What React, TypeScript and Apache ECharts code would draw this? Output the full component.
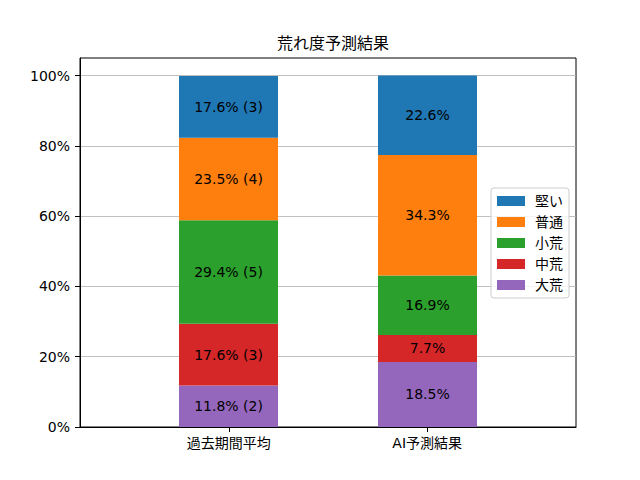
import React, { useEffect, useRef } from "react";
import * as echarts from "echarts";

const categories = ["過去期間平均", "AI予測結果"];
const seriesNames = ["大荒", "中荒", "小荒", "普通", "堅い"]; // bottom to top
const legendOrder = ["堅い", "普通", "小荒", "中荒", "大荒"];
const colors = ["#9467bd", "#d62728", "#2ca02c", "#ff7f0e", "#1f77b4"];
const pastPct = [11.8, 17.6, 29.4, 23.5, 17.6];
const pastCount = [2, 3, 5, 4, 3];
const aiPct = [18.5, 7.7, 16.9, 34.3, 22.6];
const yTicks = [0, 20, 40, 60, 80, 100];

const FONT = "'DejaVu Sans', 'Noto Sans CJK JP', sans-serif";

export default function App() {
  const ref = useRef<HTMLDivElement>(null);
  useEffect(() => {
    document.body.style.margin = "0";
    const chart = echarts.init(ref.current!, null, { renderer: "svg" });
    const series = seriesNames.map((name, i) => ({
      name,
      type: "bar",
      stack: "total",
      xAxisIndex: 1,
      yAxisIndex: 1,
      barWidth: 99,
      itemStyle: { color: colors[i] },
      label: {
        show: true,
        position: "inside",
        color: "#000",
        fontSize: 14,
        fontFamily: FONT,
        textBorderWidth: 0,
        formatter: (p: any) =>
          p.dataIndex === 0
            ? `${pastPct[i].toFixed(1)}% (${pastCount[i]})`
            : `${aiPct[i].toFixed(1)}%`,
      },
      emphasis: { disabled: true },
      data: [pastPct[i], aiPct[i]],
    }));
    chart.setOption({
      animation: false,
      textStyle: { fontFamily: FONT },
      title: {
        text: "荒れ度予測結果",
        left: 328,
        top: 30,
        textAlign: "center",
        textStyle: { fontSize: 16, fontWeight: "normal", color: "#000", fontFamily: FONT },
      },
      grid: [
        {
          left: 80,
          right: 64,
          top: 58,
          bottom: 53,
          show: true,
          borderColor: "#000",
          borderWidth: 1,
          backgroundColor: "transparent",
        },
        { left: 129, right: 113, top: 58, bottom: 53 },
      ],
      legend: {
        data: legendOrder,
        orient: "vertical",
        left: 491,
        top: 188,
        icon: "rect",
        itemWidth: 28,
        itemHeight: 10,
        itemGap: 7,
        padding: [6, 6, 6, 6],
        borderColor: "#cccccc",
        borderWidth: 1,
        borderRadius: 3,
        backgroundColor: "rgba(255,255,255,0.8)",
        textStyle: { fontSize: 14, color: "#000", fontFamily: FONT, padding: [0, 0, 0, 5] },
        selectedMode: false,
        z: 10,
      },
      xAxis: [
        {
          type: "value",
          gridIndex: 0,
          min: -0.75,
          max: 1.75,
          splitLine: { show: false },
          axisLine: { show: true, onZero: false, lineStyle: { color: "#000", width: 1 } },
          axisTick: { show: true, length: 5, customValues: [0, 1], lineStyle: { color: "#000" } },
          axisLabel: {
            customValues: [0, 1],
            margin: 9,
            fontSize: 14,
            color: "#000",
            fontFamily: FONT,
            formatter: (v: number) => categories[Math.round(v)] ?? "",
          },
        },
        {
          type: "category",
          gridIndex: 1,
          data: categories,
          show: false,
        },
      ],
      yAxis: [
        {
          type: "value",
          gridIndex: 0,
          min: 0,
          max: 105,
          interval: 20,
          axisLine: { show: true, onZero: false, lineStyle: { color: "#000", width: 1 } },
          axisTick: { show: true, length: 5, customValues: yTicks, lineStyle: { color: "#000" } },
          axisLabel: {
            customValues: yTicks,
            margin: 10,
            fontSize: 14,
            color: "#000",
            fontFamily: FONT,
            formatter: (v: number) => (v > 100 ? "" : `${v}%`),
          },
          splitLine: { show: true, lineStyle: { color: "#b0b0b0", width: 0.8 } },
        },
        {
          type: "value",
          gridIndex: 1,
          min: 0,
          max: 105,
          show: false,
          splitLine: { show: false },
        },
      ],
      series,
    });
    return () => chart.dispose();
  }, []);
  return <div ref={ref} style={{ width: 640, height: 480 }} />;
}
